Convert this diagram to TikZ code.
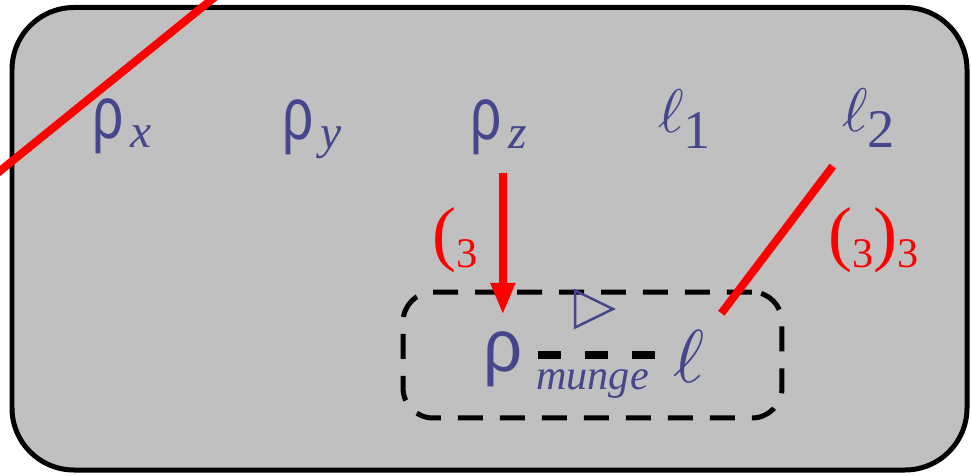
\documentclass[tikz,border=0pt]{standalone}
\usepackage{fontspec}
\setmainfont{Liberation Serif}
\newfontfamily\rhofont{Liberation Sans}
\usepackage{xcolor}
\usetikzlibrary{arrows.meta, calc}
\definecolor{ink}{RGB}{70,70,140}
\definecolor{panel}{RGB}{192,192,192}
\definecolor{hot}{RGB}{255,0,0}
\tikzstyle{redline} = [line width=0.16cm, draw=hot]
\tikzstyle{redarrow} = [redline, -{Triangle[length=0.64cm, width=0.46cm]}]
\tikzstyle{sym} = [inner sep=0pt, anchor=base west, text=ink]
\tikzstyle{tag} = [inner sep=0pt, anchor=base west, text=hot]
\tikzstyle{linkdash} = [line width=0.16cm, dash pattern=on 0.46cm off 0.48cm]
\newcommand\rh[1][0.8]{\scalebox{#1}[1.08]{\rhofont\fontsize{39}{39}\selectfont ρ}}
\newcommand\ellsym[1]{\scalebox{#1}{$\ell$}}
\newcommand\isub[1]{\hspace{0.14cm}\raisebox{-0.18cm}{\fontsize{27}{27}\selectfont\itshape #1}}
\newcommand\nsub[1]{\raisebox{-0.32cm}{\fontsize{31}{31}\selectfont #1}}
\newcommand\rsub[1]{\raisebox{-0.19cm}{\fontsize{24}{24}\selectfont #1}}
\newcommand\paren[1]{{\fontsize{41}{41}\selectfont #1}}

\begin{document}
\begin{tikzpicture}[x=0.02cm, y=-0.02cm]
\clip (0,0) rectangle (971,476);
% Panel
\draw[line width=0.1cm, fill=panel, rounded corners=1.24cm] (12,7.5) rectangle (967,470);
\draw[redline] (-10,179) -- (221,-8);

% Nodes
\node (rx) [sym] at (92,139) {\rh\isub{x}};
\node (ry) [sym] at (282,140) {\rh\isub{y}};
\node (rz) [sym] at (470,140) {\rh\isub{z}};
\node (l1) [sym] at (658,133) {\ellsym{3.5}\nsub{1}};
\node (l2) [sym] at (842,132) {\ellsym{3.5}\nsub{2}};

\node (mbox) [draw, line width=0.1cm, dash pattern=on 0.5cm off 0.34cm, rounded corners=0.6cm,
  minimum width=7.58cm, minimum height=2.52cm] at (592.5,355) {};
\node (rm) [sym] at (483,372) {\rh[1]};
\node (lm) [sym] at (673,382) {\ellsym{4.26}};
\node (mlabel) [sym] at (536,390) {\fontsize{24}{24}\selectfont\itshape munge};

\node (tz) [tag] at (432,258) {\paren{(}\rsub{3}};
\node (tl) [tag] at (828,258) {\paren{(}\rsub{3}\paren{)}\rsub{3}};

% Edges
\draw[linkdash, shorten <=0.3cm, shorten >=0.34cm] (rm.east |- mbox) -- (lm.west |- mbox);
\draw[ink, line width=0.05cm] ($(mbox.north)+(-17.5,1)$) -- ++(0,37) -- ++(38,-18.5) -- cycle;
\draw[redarrow] ($(rm |- rz.south)+(0,17)$) -- ($(rm.north)+(0,-17)$);
\draw[redline] ($(l2)!0.2!(lm)$) -- ($(l2)!0.82!(lm)$);
\end{tikzpicture}
\end{document}
